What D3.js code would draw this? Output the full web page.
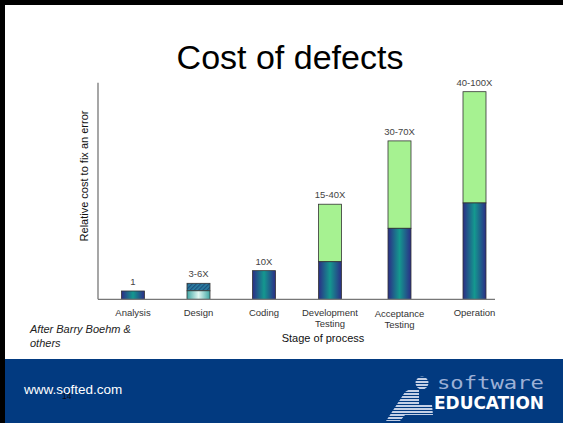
<!DOCTYPE html>
<html>
<head>
<meta charset="utf-8">
<script src="https://cdn.jsdelivr.net/npm/d3@7"></script>
<style>
  body { margin: 0; background: #fff; }
  svg { display: block; font-family: "Liberation Sans", Arial, sans-serif; }
</style>
</head>
<body>
<svg width="563" height="423"></svg>
<script>
const width = 563;
const height = 423;

// stages and bar heights (in relative units)
const stages = ['Analysis', 'Design', 'Coding', 'Development Testing', 'Acceptance Testing', 'Operation'];
const lowValues = [4, 4.1, 13.8, 18.1, 34.2, 46.4];
const highValues = [4, 7.7, 13.8, 45.8, 76.3, 100];
const costLabels = ['1', '3-6X', '10X', '15-40X', '30-70X', '40-100X'];
const barCenters = [133, 198.5, 264, 330, 399.5, 474.5];

const axisLeftX = 98;
const axisRightX = 495;
const baseY = 299.3;

const yScale = d3.scaleLinear()
    .domain([0, 100])
    .range([baseY, 91.7]);

const xScale = d3.scaleOrdinal()
    .domain(stages)
    .range(barCenters);

const barWidth = 23;

const svg = d3.select('svg');
const defs = svg.append('defs');

const blueGrad = defs.append('linearGradient')
    .attr('id', 'blueGrad')
    .attr('x1', '0%').attr('x2', '100%').attr('y1', '0%').attr('y2', '0%');
blueGrad.append('stop').attr('offset', '0%').attr('stop-color', '#2b2d86');
blueGrad.append('stop').attr('offset', '50%').attr('stop-color', '#14988f');
blueGrad.append('stop').attr('offset', '100%').attr('stop-color', '#2b2d86');

const lightGrad = defs.append('linearGradient')
    .attr('id', 'lightGrad')
    .attr('x1', '0%').attr('x2', '100%').attr('y1', '0%').attr('y2', '0%');
lightGrad.append('stop').attr('offset', '0%').attr('stop-color', '#3fa7a4');
lightGrad.append('stop').attr('offset', '50%').attr('stop-color', '#dff6f1');
lightGrad.append('stop').attr('offset', '100%').attr('stop-color', '#3fa7a4');

const hatch = defs.append('pattern')
    .attr('id', 'hatch')
    .attr('width', 3).attr('height', 3)
    .attr('patternUnits', 'userSpaceOnUse')
    .attr('patternTransform', 'rotate(45)');
hatch.append('rect').attr('width', 3).attr('height', 3).attr('fill', '#2c7fa0');
hatch.append('rect').attr('width', 1.3).attr('height', 3).attr('fill', '#1b4f7e');

// horizontal stripes for the logo figure
const stripe = defs.append('pattern')
    .attr('id', 'stripe')
    .attr('width', 4).attr('height', 3)
    .attr('patternUnits', 'userSpaceOnUse');
stripe.append('rect').attr('width', 4).attr('height', 3).attr('fill', '#023a80');
stripe.append('rect').attr('width', 4).attr('height', 2).attr('fill', '#c4d0e6');

// frame
svg.append('rect')
    .attr('x', 0).attr('y', 0)
    .attr('width', width).attr('height', height)
    .attr('fill', '#fff');

// footer band
svg.append('rect')
    .attr('x', 0).attr('y', 359)
    .attr('width', width).attr('height', height - 359)
    .attr('fill', '#023a80');

svg.append('rect').attr('x', 0).attr('y', 0).attr('width', width).attr('height', 5).attr('fill', '#000');
svg.append('rect').attr('x', 0).attr('y', 0).attr('width', 5).attr('height', height).attr('fill', '#000');

// title
svg.append('text')
    .attr('x', 290)
    .attr('y', 69)
    .style('text-anchor', 'middle')
    .style('font-size', '34px')
    .attr('fill', '#000')
    .text('Cost of defects');

// bars
const data = stages.map((s, i) => ({
    stage: s, low: lowValues[i], high: highValues[i], label: costLabels[i]
}));

const bars = svg.append('g');

// upper (green) part
bars.selectAll('rect.high')
    .data(data.filter((d) => d.high > d.low && d.stage !== 'Design'))
    .enter()
    .append('rect')
        .attr('class', 'high')
        .attr('x', (d) => xScale(d.stage) - barWidth / 2)
        .attr('y', (d) => yScale(d.high))
        .attr('width', barWidth)
        .attr('height', (d) => yScale(d.low) - yScale(d.high))
        .attr('fill', '#a6f291')
        .attr('stroke', '#333')
        .attr('stroke-width', 0.8);

// design bar: hatched top
bars.selectAll('rect.hatch')
    .data(data.filter((d) => d.stage === 'Design'))
    .enter()
    .append('rect')
        .attr('x', (d) => xScale(d.stage) - barWidth / 2)
        .attr('y', (d) => yScale(d.high))
        .attr('width', barWidth)
        .attr('height', (d) => yScale(d.low) - yScale(d.high))
        .attr('fill', 'url(#hatch)')
        .attr('stroke', '#333')
        .attr('stroke-width', 0.8);

// lower part
bars.selectAll('rect.low')
    .data(data)
    .enter()
    .append('rect')
        .attr('class', 'low')
        .attr('x', (d) => xScale(d.stage) - barWidth / 2)
        .attr('y', (d) => yScale(d.low))
        .attr('width', barWidth)
        .attr('height', (d) => baseY - yScale(d.low))
        .attr('fill', (d) => d.stage === 'Design' ? 'url(#lightGrad)' : 'url(#blueGrad)')
        .attr('stroke', '#333')
        .attr('stroke-width', 0.8);

// cost labels
bars.selectAll('text.cost')
    .data(data)
    .enter()
    .append('text')
        .attr('x', (d) => xScale(d.stage))
        .attr('y', (d) => yScale(d.high) - 6)
        .style('text-anchor', 'middle')
        .style('font-size', '9.5px')
        .attr('fill', '#444')
        .text((d) => d.label);

// axes
const xAxis = d3.axisBottom(xScale).tickSize(0).tickFormat('');
const yAxis = d3.axisLeft(yScale).tickSize(0).tickFormat('');

svg.append('g')
    .attr('transform', `translate(0, ${baseY})`)
    .call(xAxis)
    .call((g) => g.select('.domain')
        .attr('d', `M${axisLeftX},0H${axisRightX}`)
        .attr('stroke', '#777').attr('stroke-width', 1.3));

svg.append('g')
    .attr('transform', `translate(${axisLeftX}, 0)`)
    .call(yAxis)
    .call((g) => g.select('.domain')
        .attr('d', `M0,82.7V${baseY}`)
        .attr('stroke', '#777').attr('stroke-width', 1.3));

// category labels
const catLabels = svg.append('g')
    .selectAll('text')
    .data(stages)
    .enter()
    .append('text')
        .attr('x', (d) => xScale(d))
        .attr('y', (d) => d === 'Acceptance Testing' ? 317 : 316)
        .style('text-anchor', 'middle')
        .style('font-size', '9.5px')
        .attr('fill', '#333');

catLabels.each(function (d) {
    const words = d.split(' ');
    d3.select(this).selectAll('tspan')
        .data(words)
        .enter()
        .append('tspan')
            .attr('x', xScale(d))
            .attr('dy', (w, i) => i === 0 ? 0 : '1.2em')
            .text((w) => w);
});

svg.append('text')
    .attr('x', 323)
    .attr('y', 342)
    .style('text-anchor', 'middle')
    .style('font-size', '11px')
    .attr('fill', '#111')
    .text('Stage of process');

svg.append('text')
    .attr('transform', 'rotate(-90)')
    .attr('x', -176)
    .attr('y', 88)
    .style('text-anchor', 'middle')
    .style('font-size', '11px')
    .attr('fill', '#111')
    .text('Relative cost to fix an error');

const note = svg.append('text')
    .attr('x', 30)
    .attr('y', 333)
    .style('font-size', '11px')
    .style('font-style', 'italic')
    .attr('fill', '#222');
note.append('tspan').attr('x', 30).text('After Barry Boehm &');
note.append('tspan').attr('x', 30).attr('dy', '1.25em').text('others');

// footer text
svg.append('text')
    .attr('x', 24)
    .attr('y', 394)
    .style('font-size', '13.5px')
    .attr('fill', '#fff')
    .text('www.softed.com');

svg.append('text')
    .attr('x', 62)
    .attr('y', 399)
    .style('font-size', '8.5px')
    .attr('fill', '#0a0a1a')
    .text('14');

// logo figure
const logo = svg.append('g');
logo.append('path')
    .attr('d', 'M386,421 L405,392 L410,389 L419,389 L419,405 L432,405 L433,415 L405,415 L400,421 Z')
    .attr('fill', 'url(#stripe)');
logo.append('circle')
    .attr('cx', 422).attr('cy', 383).attr('r', 6.5)
    .attr('fill', 'url(#stripe)');

svg.append('text')
    .attr('x', 437)
    .attr('y', 389)
    .attr('textLength', 107)
    .attr('lengthAdjust', 'spacingAndGlyphs')
    .style('font-family', '"DejaVu Sans Mono", monospace')
    .style('font-size', '18px')
    .attr('fill', '#9db0d6')
    .text('software');

svg.append('text')
    .attr('x', 434)
    .attr('y', 408.5)
    .attr('textLength', 110)
    .attr('lengthAdjust', 'spacingAndGlyphs')
    .style('font-family', '"DejaVu Sans Condensed", sans-serif')
    .style('font-size', '17px')
    .style('font-weight', 'bold')
    .attr('fill', '#fff')
    .text('EDUCATION');
</script>
</body>
</html>
